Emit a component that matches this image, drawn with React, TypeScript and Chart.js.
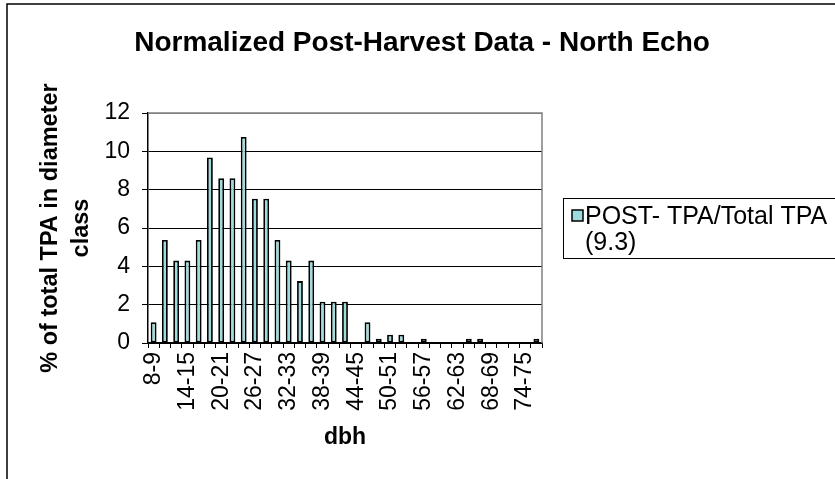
import React, { useEffect, useRef } from "react";
import { Chart, registerables } from "chart.js";

Chart.register(...registerables);

const chartTitle = "Normalized Post-Harvest Data - North Echo";
const yAxisTitle = ["% of total TPA in diameter", "class"];
const xAxisTitle = "dbh";
const seriesName = ["POST- TPA/Total TPA", "(9.3)"];

const categories = [
  "8-9", "10-11", "12-13", "14-15", "16-17", "18-19", "20-21", "22-23", "24-25",
  "26-27", "28-29", "30-31", "32-33", "34-35", "36-37", "38-39", "40-41", "42-43",
  "44-45", "46-47", "48-49", "50-51", "52-53", "54-55", "56-57", "58-59", "60-61",
  "62-63", "64-65", "66-67", "68-69", "70-71", "72-73", "74-75", "76-77",
];

const values = [
  1.08, 5.38, 4.3, 4.3, 5.38, 9.68, 8.6, 8.6, 10.75,
  7.53, 7.53, 5.38, 4.3, 3.23, 4.3, 2.15, 2.15, 2.15,
  0, 1.08, 0.22, 0.43, 0.43, 0, 0.22, 0, 0,
  0, 0.22, 0.22, 0, 0, 0, 0, 0.22,
];

const yTicks = [0, 2, 4, 6, 8, 10, 12];

const FONT = "'Liberation Sans', Arial, sans-serif";
const BAR_FILL = "#9CDCDC";

const decorPlugin = {
  id: "decor",
  afterDraw(chart: any) {
    const ctx = chart.ctx;
    const a = chart.chartArea;
    ctx.save();
    // outer frame (top and left visible)
    ctx.strokeStyle = "#000";
    ctx.lineWidth = 1.5;
    ctx.beginPath();
    ctx.moveTo(7, 479);
    ctx.lineTo(7, 4);
    ctx.lineTo(835, 4);
    ctx.stroke();
    // plot area gray top/right border
    ctx.strokeStyle = "#808080";
    ctx.lineWidth = 1.5;
    ctx.beginPath();
    ctx.moveTo(a.left, a.top);
    ctx.lineTo(a.right, a.top);
    ctx.lineTo(a.right, a.bottom);
    ctx.stroke();
    // title
    ctx.fillStyle = "#000";
    ctx.font = `bold 28px ${FONT}`;
    ctx.textAlign = "center";
    ctx.textBaseline = "middle";
    ctx.fillText(chartTitle, 422, 43);
    // legend box
    ctx.strokeStyle = "#000";
    ctx.lineWidth = 1;
    ctx.strokeRect(563.5, 198.5, 300, 60);
    ctx.fillStyle = BAR_FILL;
    ctx.fillRect(572, 210, 11, 11);
    ctx.lineWidth = 1.5;
    ctx.strokeRect(572, 210, 11, 11);
    ctx.fillStyle = "#000";
    ctx.font = `25px ${FONT}`;
    ctx.textAlign = "left";
    ctx.textBaseline = "alphabetic";
    ctx.fillText(seriesName[0], 585, 224);
    ctx.fillText(seriesName[1], 585, 250);
    ctx.restore();
  },
};

export default function App() {
  const ref = useRef<HTMLCanvasElement>(null);
  useEffect(() => {
    if (!ref.current) return;
    const chart = new Chart(ref.current, {
      type: "bar",
      data: {
        labels: categories,
        datasets: [
          {
            label: seriesName.join(" "),
            data: values,
            backgroundColor: BAR_FILL,
            borderColor: "#000",
            borderWidth: 1.8,
            borderSkipped: false,
            barPercentage: 0.52,
            categoryPercentage: 1,
          },
        ],
      },
      options: {
        animation: false,
        responsive: false,
        events: [],
        layout: { padding: { left: 8, top: 113, right: 293, bottom: 0 } },
        plugins: {
          legend: { display: false },
          title: { display: false },
          tooltip: { enabled: false },
        },
        scales: {
          x: {
            type: "category",
            offset: true,
            grid: {
              offset: true,
              drawOnChartArea: false,
              drawTicks: true,
              tickLength: 5,
              color: "#000",
              lineWidth: 1,
            },
            border: { display: true, color: "#000", width: 1.5 },
            ticks: {
              autoSkip: false,
              minRotation: 90,
              maxRotation: 90,
              padding: 4,
              color: "#000",
              font: { family: FONT, size: 23 },
              callback: (_v: any, i: number) => (i % 3 === 0 ? categories[i] : ""),
            },
            title: {
              display: true,
              text: xAxisTitle,
              color: "#000",
              font: { family: FONT, size: 23, weight: "bold", lineHeight: 1.2 },
              padding: { top: 0, bottom: 28 },
            },
            afterFit: (s: any) => {
              s.height = 136;
            },
          },
          y: {
            min: 0,
            max: 12,
            afterBuildTicks: (s: any) => {
              s.ticks = yTicks.map((v) => ({ value: v }));
            },
            grid: {
              color: (c: any) => (c.tick && c.tick.value === 12 ? "#808080" : "#000"),
              lineWidth: 1,
              drawTicks: true,
              tickLength: 6,
              tickColor: "#000",
            },
            border: { display: true, color: "#000", width: 1.5 },
            ticks: {
              padding: 12,
              color: "#000",
              font: { family: FONT, size: 23 },
            },
            title: {
              display: true,
              text: yAxisTitle,
              color: "#000",
              font: { family: FONT, size: 23.5, weight: "bold", lineHeight: 1.3 },
              padding: { top: 27.5, bottom: 0 },
            },
            afterFit: (s: any) => {
              s.width = 140;
            },
          },
        },
      },
      plugins: [decorPlugin],
    });
    return () => chart.destroy();
  }, []);
  return (
    <div style={{ position: "absolute", left: 0, top: 0, width: 835, height: 479, background: "#fff" }}>
      <canvas ref={ref} width={835} height={479} style={{ display: "block" }} />
    </div>
  );
}
